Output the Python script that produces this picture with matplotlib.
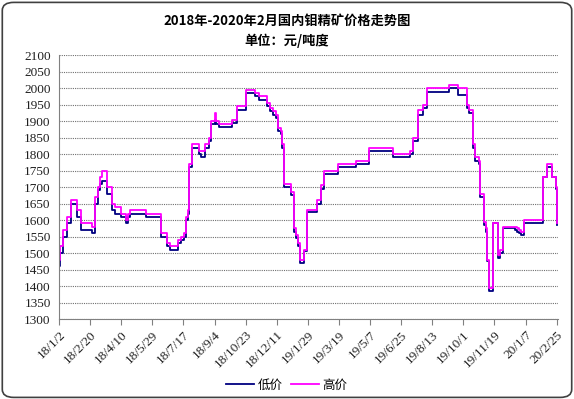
import datetime as dt
import matplotlib
matplotlib.use('Agg')
import matplotlib.pyplot as plt
from matplotlib.patches import FancyBboxPatch

plt.rcParams['font.family'] = ['Noto Sans CJK SC', 'DejaVu Sans']

title = '2018年-2020年2月国内钼精矿价格走势图'
subtitle = '单位：元/吨度'
start = dt.date(2018, 1, 2)

# day offsets from 2018-01-02 where the price changes
low_days = [0, 2, 6, 13, 19, 28, 35, 52, 57, 61, 64, 67, 75, 83, 88, 98, 105, 109, 112, 137,
            160, 170, 175, 187, 192, 197, 200, 203, 205, 210, 220, 224, 230, 236, 240, 245, 248,
            252, 272, 281, 295, 309, 315, 328, 332, 337, 342, 345, 349, 352, 355, 366, 370, 374,
            377, 379, 386, 391, 407, 413, 417, 440, 468, 488, 526, 553, 558, 566, 574, 580, 615,
            629, 643, 646, 652, 656, 661, 664, 669, 672, 675, 677, 684, 691, 695, 700, 714, 718,
            722, 725, 728, 733, 762, 769, 777, 783, 785]
low_vals = [1460, 1500, 1550, 1590, 1650, 1610, 1570, 1560, 1650, 1690, 1710, 1720, 1680, 1630,
            1620, 1610, 1590, 1610, 1620, 1610, 1550, 1520, 1510, 1530, 1540, 1550, 1600, 1620,
            1760, 1820, 1800, 1790, 1820, 1840, 1890, 1905, 1890, 1883, 1895, 1935, 1985, 1975,
            1965, 1945, 1930, 1920, 1910, 1870, 1860, 1820, 1700, 1675, 1565, 1545, 1520, 1470,
            1505, 1625, 1650, 1695, 1740, 1760, 1770, 1810, 1790, 1800, 1840, 1920, 1940, 1990,
            2000, 1980, 1940, 1925, 1820, 1780, 1770, 1670, 1585, 1565, 1475, 1385, 1590, 1485,
            1500, 1575, 1575, 1570, 1565, 1560, 1555, 1590, 1730, 1760, 1730, 1695, 1585]

high_days = low_days
high_vals = [1480, 1520, 1570, 1610, 1660, 1630, 1590, 1580, 1670, 1700, 1730, 1750, 1700, 1650,
             1640, 1620, 1600, 1620, 1630, 1620, 1560, 1530, 1520, 1540, 1550, 1560, 1610, 1630,
             1770, 1830, 1810, 1810, 1830, 1850, 1900, 1925, 1900, 1893, 1905, 1945, 1995, 1985,
             1975, 1955, 1940, 1930, 1920, 1880, 1870, 1830, 1710, 1685, 1575, 1555, 1530, 1480,
             1510, 1630, 1660, 1705, 1750, 1770, 1780, 1820, 1800, 1810, 1850, 1935, 1950, 2000,
             2010, 2000, 1950, 1935, 1830, 1790, 1780, 1680, 1595, 1575, 1480, 1395, 1590, 1495,
             1510, 1580, 1580, 1578, 1575, 1570, 1565, 1600, 1730, 1770, 1730, 1700, 1590]

tick_labels = ['18/1/2', '18/2/20', '18/4/10', '18/5/29', '18/7/17', '18/9/4', '18/10/23',
               '18/12/11', '19/1/29', '19/3/19', '19/5/7', '19/6/25', '19/8/13', '19/10/1',
               '19/11/19', '20/1/7', '20/2/25']

low_dates = [start + dt.timedelta(days=d) for d in low_days]
high_dates = [start + dt.timedelta(days=d) for d in high_days]
tick_dates = [start + dt.timedelta(days=49 * i) for i in range(len(tick_labels))]

fig = plt.figure(figsize=(5.74, 3.99), dpi=100)
ax = fig.add_axes([0.1028, 0.2005, 0.8692, 0.661])

# chart border
fig.patches.append(FancyBboxPatch((0.004, 0.004), 0.992, 0.99, boxstyle='round,pad=0,rounding_size=0.02',
                                  transform=fig.transFigure, fill=False, edgecolor='#404040', linewidth=1.2))

ax.plot(low_dates, low_vals, drawstyle='steps-post', color='#000080', lw=1.3, label='低价')
ax.plot(high_dates, high_vals, drawstyle='steps-post', color='#FF00FF', lw=1.3, label='高价')

ax.set_ylim(1300, 2100)
ax.set_yticks(range(1300, 2101, 50))
ax.set_xlim(start, start + dt.timedelta(days=786))
ax.set_xticks(tick_dates)
ax.set_xticklabels(tick_labels, rotation=45, ha='right', rotation_mode='anchor')

for lab in ax.get_xticklabels() + ax.get_yticklabels():
    lab.set_family('Liberation Serif')
    lab.set_fontsize(9.5)
    lab.set_color('#202020')

ax.tick_params(axis='y', length=0, pad=6)
ax.tick_params(axis='x', length=4, color='#808080', pad=3)
ax.grid(axis='y', color='#707070', linestyle=(0, (1, 1)), linewidth=0.8)
for s in ['top', 'right']:
    ax.spines[s].set_visible(False)
for s in ['left', 'bottom']:
    ax.spines[s].set_color('#808080')

fig.text(0.5, 0.948, title, ha='center', va='center', fontsize=9.5, fontweight='bold')
fig.text(0.5, 0.898, subtitle, ha='center', va='center', fontsize=9.5, fontweight='bold')

fig.legend(loc='center', bbox_to_anchor=(0.5, 0.035), ncol=2, frameon=False, fontsize=9,
           handlelength=2.2, columnspacing=0.7, handletextpad=0.3)

fig.savefig('out.png', dpi=100)
